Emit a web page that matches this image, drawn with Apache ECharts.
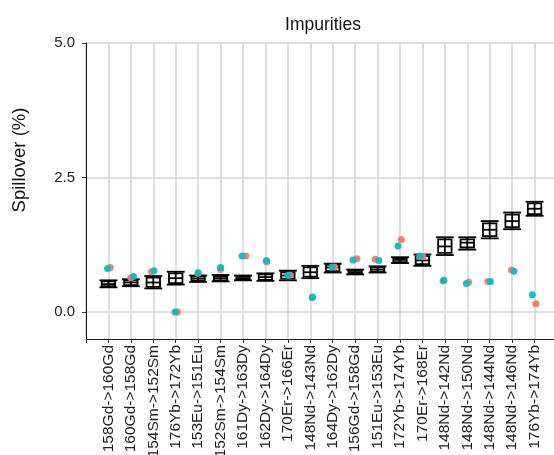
<!DOCTYPE html>
<html>
<head>
<meta charset="utf-8">
<script src="https://cdn.jsdelivr.net/npm/echarts@6/dist/echarts.min.js"></script>
<style>
  html, body { margin: 0; padding: 0; background: #fff; }
  #chart { width: 554px; height: 455px; }
</style>
</head>
<body>
<div id="chart"></div>
<script>
// categories (mass channel pairs)
const categories = [
  '158Gd->160Gd', '160Gd->158Gd', '154Sm->152Sm', '176Yb->172Yb', '153Eu->151Eu',
  '152Sm->154Sm', '161Dy->163Dy', '162Dy->164Dy', '170Er->166Er', '148Nd->143Nd',
  '164Dy->162Dy', '156Gd->158Gd', '151Eu->153Eu', '172Yb->174Yb', '170Er->168Er',
  '148Nd->142Nd', '148Nd->150Nd', '148Nd->144Nd', '148Nd->146Nd', '176Yb->174Yb'
];

// box stats
const lows = [0.46, 0.48, 0.44, 0.51, 0.56, 0.57, 0.59, 0.58, 0.59, 0.63, 0.735, 0.70, 0.735, 0.91, 0.86, 1.06, 1.16, 1.37, 1.54, 1.79];
const q1s  = [0.48, 0.50, 0.47, 0.54, 0.58, 0.59, 0.61, 0.60, 0.62, 0.66, 0.76, 0.71, 0.75, 0.93, 0.89, 1.10, 1.20, 1.41, 1.58, 1.82];
const meds = [0.52, 0.55, 0.55, 0.63, 0.62, 0.63, 0.63, 0.65, 0.68, 0.74, 0.83, 0.74, 0.79, 0.97, 0.96, 1.22, 1.29, 1.53, 1.69, 1.92];
const q3s  = [0.57, 0.59, 0.64, 0.72, 0.66, 0.67, 0.66, 0.70, 0.74, 0.83, 0.88, 0.77, 0.83, 1.00, 1.04, 1.35, 1.35, 1.65, 1.81, 2.02];
const highs = [0.59, 0.61, 0.67, 0.75, 0.68, 0.69, 0.68, 0.72, 0.77, 0.86, 0.90, 0.79, 0.85, 1.02, 1.07, 1.39, 1.39, 1.69, 1.85, 2.05];

// measured points
const redValues  = [0.83, 0.64, 0.75, 0.0, 0.72, 0.79, 1.04, 0.93, 0.685, 0.265, 0.84, 0.99, 0.98, 1.35, 1.03, 0.58, 0.555, 0.57, 0.78, 0.155];
const cyanValues = [0.81, 0.66, 0.77, 0.0, 0.73, 0.83, 1.04, 0.96, 0.685, 0.28, 0.84, 0.97, 0.96, 1.23, 1.04, 0.59, 0.53, 0.57, 0.76, 0.32];
// horizontal jitter (category units)
const redJitter  = [0.08, 0, -0.08, 0.08, 0, 0, 0.13, 0.06, 0.1, 0.08, 0.08, 0.08, -0.1, 0.06, 0.02, -0.08, 0.06, -0.08, -0.03, 0.06];
const cyanJitter = [-0.04, 0.12, 0.03, -0.03, 0, 0, -0.04, 0.04, 0, 0.1, -0.04, -0.09, 0.06, -0.09, -0.12, -0.04, -0.04, 0.03, 0.08, -0.1];

const yTicks = [0, 2.5, 5];

const font = 'Liberation Sans, Arial, sans-serif';
const chart = echarts.init(document.getElementById('chart'));

const boxData = categories.map((c, i) => [i, lows[i], q1s[i], meds[i], q3s[i], highs[i]]);
const redData = redValues.map((v, i) => [i + redJitter[i], v]);
const cyanData = cyanValues.map((v, i) => [i + cyanJitter[i], v]);

// box + error bar drawn like the original (caps wider than box)
function renderBox(params, api) {
  const x = api.value(0);
  const lo = api.coord([x, api.value(1)]);
  const q1 = api.coord([x, api.value(2)]);
  const md = api.coord([x, api.value(3)]);
  const q3 = api.coord([x, api.value(4)]);
  const hi = api.coord([x, api.value(5)]);
  const bw = api.size([0.6, 0])[0];
  const cw = api.size([0.8, 0])[0];
  const st = { stroke: '#000', lineWidth: 1.8, fill: null };
  return {
    type: 'group',
    children: [
      { type: 'rect', shape: { x: q3[0] - bw / 2, y: q3[1], width: bw, height: q1[1] - q3[1] },
        style: { stroke: '#000', lineWidth: 1.8, fill: '#fff' } },
      { type: 'line', shape: { x1: lo[0], y1: lo[1], x2: hi[0], y2: hi[1] }, style: st },
      { type: 'line', shape: { x1: md[0] - bw / 2, y1: md[1], x2: md[0] + bw / 2, y2: md[1] }, style: st },
      { type: 'line', shape: { x1: lo[0] - cw / 2, y1: lo[1], x2: lo[0] + cw / 2, y2: lo[1] }, style: st },
      { type: 'line', shape: { x1: hi[0] - cw / 2, y1: hi[1], x2: hi[0] + cw / 2, y2: hi[1] }, style: st }
    ]
  };
}

const option = {
  animation: false,
  title: {
    text: 'Impurities',
    left: 318,
    top: 11,
    textAlign: 'center',
    textStyle: { fontFamily: font, fontSize: 17.5, fontWeight: 'normal', color: '#111' }
  },
  graphic: [{
    type: 'text',
    x: 20,
    y: 160,
    rotation: Math.PI / 2,
    style: {
      text: 'Spillover (%)',
      font: '18.5px ' + font,
      fill: '#111',
      align: 'center',
      verticalAlign: 'middle'
    }
  }],
  // labels run off the bottom edge in the original, so keep the grid fixed
  grid: { left: 86, right: -3, top: 43, bottom: 116, outerBoundsMode: 'none' },
  xAxis: {
    type: 'value',
    min: -1,
    max: 20,
    interval: 1,
    axisLine: { show: true, onZero: false, lineStyle: { color: '#222', width: 1 } },
    axisTick: { show: true, length: 4, lineStyle: { color: '#333' } },
    splitLine: { show: true, lineStyle: { color: '#d6d6d6', width: 1.5 } },
    axisLabel: {
      rotate: 90,
      margin: 6,
      fontFamily: font,
      fontSize: 15.5,
      color: '#222',
      formatter: (v) => {
        const i = Math.round(v);
        return Math.abs(v - i) < 1e-6 && i >= 0 && i < categories.length ? categories[i] : '';
      }
    }
  },
  yAxis: {
    type: 'value',
    min: -0.5,
    max: 5,
    axisLine: { show: true, onZero: false, lineStyle: { color: '#111', width: 1 } },
    axisTick: { show: true, length: 4, customValues: yTicks, lineStyle: { color: '#333' } },
    axisLabel: {
      customValues: yTicks,
      margin: 11,
      fontFamily: font,
      fontSize: 15,
      color: '#222',
      formatter: (v) => v.toFixed(1)
    },
    splitLine: { show: true, lineStyle: { color: '#d6d6d6', width: 1.5 } }
  },
  series: [
    {
      type: 'custom',
      renderItem: renderBox,
      encode: { x: 0, y: [1, 2, 3, 4, 5] },
      data: boxData,
      z: 3
    },
    {
      type: 'scatter',
      data: redData,
      symbolSize: 7,
      itemStyle: { color: '#F8766D', opacity: 0.95 },
      z: 4
    },
    {
      type: 'scatter',
      data: cyanData,
      symbolSize: 7,
      itemStyle: { color: '#00BFC4', opacity: 0.95 },
      z: 5
    }
  ]
};

chart.setOption(option);
</script>
</body>
</html>
